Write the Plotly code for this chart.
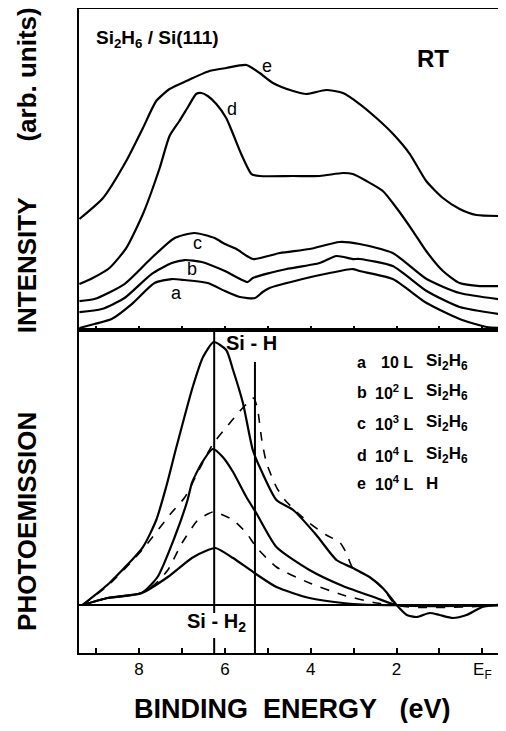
import plotly.graph_objects as go

# ---------------- data (binding energy in eV, intensity in arb. units) ----------------
# upper panel: EDC spectra
e_up_E = [9.39, 8.84, 8.30, 7.91, 7.60, 7.29, 6.90, 6.36, 5.97, 5.50, 5.19, 4.88, 4.41, 4.10, 3.64, 3.25,
          2.86, 2.47, 2.08, 1.69, 1.31, 0.92, 0.53, 0.14, -0.55]
e_up_I = [111, 132, 169, 202, 229, 241, 249, 259, 262, 265, 257, 247, 239, 236, 240, 237,
          226, 212, 196, 176, 149, 132, 121, 115, 114]

d_up_E = [9.39, 9.08, 8.69, 8.30, 7.91, 7.52, 7.29, 7.06, 6.86, 6.67, 6.55, 6.40, 6.20, 5.97, 5.81, 5.62,
          5.38, 5.19, 4.41, 3.79, 3.25, 3.02, 2.70, 2.32, 2.00, 1.62, 1.31, 0.92, 0.53, 0.06, -0.55]
d_up_I = [46, 52, 62, 82, 116, 162, 194, 209, 223, 236, 237, 234, 226, 212, 196, 176,
          156, 154, 154, 154, 157, 156, 149, 139, 122, 99, 79, 59, 47, 44, 44]

c_up_E = [9.39, 9.04, 8.34, 7.71, 7.17, 6.71, 6.24, 6.00, 5.73, 5.35, 4.72, 4.03, 3.33, 2.86, 2.09, 1.30,
          0.53, -0.55]
c_up_I = [29, 31, 46, 72, 92, 97, 92, 86, 81, 71, 77, 81, 88, 86, 77, 51, 37, 30]

b_up_E = [9.39, 8.87, 8.34, 7.71, 7.24, 6.94, 6.54, 6.00, 5.47, 5.35, 4.96, 4.56, 3.79, 3.40, 3.02, 2.86,
          2.09, 1.30, 0.53, -0.55]
b_up_I = [18, 21, 32, 56, 67, 70, 68, 59, 48, 52, 57, 61, 67, 74, 71, 71, 64, 39, 23, 15]

a_up_E = [9.39, 9.04, 8.64, 8.17, 7.64, 7.24, 6.94, 6.40, 6.00, 5.65, 5.30, 5.12, 4.96, 4.19, 3.56, 3.02,
          2.86, 2.09, 1.30, 0.53, -0.10, -0.55]
a_up_I = [2, 6, 11, 26, 47, 51, 50, 47, 39, 33, 32, 38, 42, 51, 57, 61, 59, 51, 27, 11, 3, 2]

# lower panel: difference spectra
d_lo_E = [9.32, 8.69, 7.91, 7.60, 7.37, 7.13, 6.75, 6.51, 6.26, 5.97, 5.81, 5.58, 5.35, 5.19, 4.80, 4.41,
          3.87, 3.40, 3.02, 2.63, 2.30, 2.00, 1.76, 1.53, 1.23, 1.00, 0.69, 0.37, 0.00, -0.55]
d_lo_I = [0, 22, 58, 85, 118, 158, 218, 248, 263, 255, 235, 202, 155, 138, 105, 95,
          70, 45, 37, 28, 16, 0, -10, -12, -8, -10, -13, -10, -2, 1]

e_lo_E = [9.32, 8.71, 7.93, 7.25, 6.93, 6.57, 6.28, 6.00, 5.65, 5.45, 5.33, 5.24, 5.14, 5.03, 4.80, 4.60,
          4.30, 4.03, 3.64, 3.33, 3.17, 3.02, 2.63, 2.30, 2.00, -0.55]
e_lo_I = [0, 20, 55, 92, 108, 138, 161, 176, 194, 203, 207, 196, 165, 142, 118, 105,
          92, 82, 70, 63, 52, 37, 28, 16, 0, 0]

c_lo_E = [9.32, 8.73, 7.94, 7.57, 7.17, 6.87, 6.77, 6.54, 6.28, 6.05, 5.81, 5.50, 5.27, 4.80, 4.03, 3.25,
          2.47, 2.00, -0.55]
c_lo_I = [0, 7, 12, 28, 68, 105, 122, 142, 156, 148, 133, 108, 92, 58, 35, 19, 7, 0, 0]

b_lo_E = [9.32, 8.73, 7.94, 7.60, 7.33, 7.00, 6.63, 6.40, 6.28, 6.10, 5.81, 5.50, 5.27, 4.80, 4.03, 3.25,
          2.47, 2.10, -0.55]
b_lo_I = [0, 7, 12, 22, 35, 62, 85, 91, 93, 91, 85, 72, 58, 38, 22, 10, 2, 0, 0]

a_lo_E = [9.32, 8.73, 7.94, 7.33, 6.77, 6.45, 6.22, 5.81, 5.31, 4.80, 4.03, 3.25, 2.47, -0.55]
a_lo_I = [0, 7, 12, 28, 47, 54, 57, 47, 32, 18, 7, 2, 0, 0]

all_ticks = [9, 8, 7, 6, 5, 4, 3, 2, 1, 0]
label_ticks = [8, 6, 4, 2, 0]
label_text = ["8", "6", "4", "2", "E<sub>F</sub>"]
minor_ticks = [9, 7, 5, 3, 1]

si_h2_E = 6.25
si_h_E = 5.30

legend_letters = ["a", "b", "c", "d", "e"]
legend_doses = ["10 L", "10<sup>2</sup> L", "10<sup>3</sup> L", "10<sup>4</sup> L", "10<sup>4</sup> L"]
legend_gas = ["Si<sub>2</sub>H<sub>6</sub>", "Si<sub>2</sub>H<sub>6</sub>", "Si<sub>2</sub>H<sub>6</sub>",
              "Si<sub>2</sub>H<sub>6</sub>", "H"]
legend_rows_I = [243, 213, 182, 150, 122]

# ---------------- figure ----------------
FONT = "Liberation Sans, Arial, Helvetica, sans-serif"
fig = go.Figure()

def add(E, I, ax, dash="solid", width=2.2):
    fig.add_trace(go.Scatter(x=E, y=I, mode="lines", xaxis=ax[0], yaxis=ax[1],
                             line=dict(color="black", width=width, dash=dash,
                                       shape="spline", smoothing=0.6),
                             hoverinfo="skip", showlegend=False))

for E, I in [(e_up_E, e_up_I), (d_up_E, d_up_I), (c_up_E, c_up_I), (b_up_E, b_up_I), (a_up_E, a_up_I)]:
    add(E, I, ("x", "y"))

add(d_lo_E, d_lo_I, ("x2", "y2"))
add(e_lo_E, e_lo_I, ("x2", "y2"), dash="dash", width=1.6)
add(c_lo_E, c_lo_I, ("x2", "y2"))
add(b_lo_E, b_lo_I, ("x2", "y2"), dash="dash", width=1.6)
add(a_lo_E, a_lo_I, ("x2", "y2"))

xr = [9.40, -0.55]
split = 0.5015
line_style = dict(showline=True, linecolor="black", linewidth=2, showgrid=False, zeroline=False)

fig.update_layout(
    width=498, height=715,
    margin=dict(l=71, r=0, t=1, b=70),
    paper_bgcolor="white", plot_bgcolor="white",
    showlegend=False,
    font=dict(family=FONT, color="black", size=16),
    xaxis=dict(domain=[0, 1], anchor="y", range=xr, mirror=True, ticks="inside", ticklen=4,
               tickwidth=1.5, tickcolor="black", tickvals=all_ticks, showticklabels=False, **line_style),
    yaxis=dict(domain=[split, 1], anchor="x", range=[0, 321], showticklabels=False, ticks="",
               **line_style),
    xaxis2=dict(domain=[0, 1], anchor="y2", range=xr, mirror=True, ticks="inside", ticklen=5,
                tickwidth=1.5, tickcolor="black", tickvals=label_ticks, ticktext=label_text,
                tickfont=dict(family=FONT, size=17, color="black"),
                minor=dict(tickvals=minor_ticks, ticks="inside", ticklen=5, tickwidth=1.5,
                           tickcolor="black", showgrid=False),
                **line_style),
    yaxis2=dict(domain=[0, split], anchor="x2", range=[-48, 275], showticklabels=False, ticks="",
                showline=True, linecolor="black", linewidth=2, showgrid=False,
                zeroline=True, zerolinecolor="black", zerolinewidth=1.6),
)

# vertical marker lines
fig.add_shape(type="line", xref="x2", yref="y2", x0=si_h2_E, x1=si_h2_E, y0=-8, y1=275,
              line=dict(color="black", width=2))
fig.add_shape(type="line", xref="x2", yref="y2", x0=si_h2_E, x1=si_h2_E, y0=-48, y1=-33,
              line=dict(color="black", width=2))
fig.add_shape(type="line", xref="x2", yref="y2", x0=si_h_E, x1=si_h_E, y0=-48, y1=243,
              line=dict(color="black", width=2))

ann = []
def txt(x, y, text, size, bold=False, xanchor="center", xref="x", yref="y", angle=0):
    t = "<b>%s</b>" % text if bold else text
    ann.append(dict(x=x, y=y, xref=xref, yref=yref, text=t, showarrow=False, xanchor=xanchor,
                    yanchor="middle", textangle=angle,
                    font=dict(family=FONT, size=size, color="black")))

# upper panel texts
txt(9.05, 291, "Si<sub>2</sub>H<sub>6</sub> / Si(111)", 19, bold=True, xanchor="left")
txt(1.16, 272, "RT", 24, bold=True)
txt(5.03, 264, "e", 18)
txt(5.84, 221, "d", 18)
txt(6.65, 87, "c", 18)
txt(6.77, 61, "b", 18)
txt(7.12, 37, "a", 18)

# lower panel texts
txt(5.37, 262, "Si - H", 20, bold=True, xref="x2", yref="y2")
txt(6.19, -17, "Si - H<sub>2</sub>", 20, bold=True, xref="x2", yref="y2")
for L, D, G, yy in zip(legend_letters, legend_doses, legend_gas, legend_rows_I):
    txt(2.98, yy, L, 16, bold=True, xanchor="left", xref="x2", yref="y2")
    txt(1.58, yy, D, 16, bold=True, xanchor="right", xref="x2", yref="y2")
    txt(1.35, yy, G, 17, bold=True, xanchor="left", xref="x2", yref="y2")

# axis titles
txt(0.501, -0.087, "BINDING&nbsp;&nbsp;ENERGY&nbsp;&nbsp;&nbsp;(eV)", 27, bold=True,
    xref="paper", yref="paper")
txt(-0.122, 0.205, "PHOTOEMISSION", 26, bold=True, xref="paper", yref="paper", angle=-90)
txt(-0.122, 0.602, "INTENSITY", 26, bold=True, xref="paper", yref="paper", angle=-90)
txt(-0.122, 0.898, "(arb. units)", 26, bold=True, xref="paper", yref="paper", angle=-90)

fig.update_layout(annotations=ann)
fig.write_html("out.html")
